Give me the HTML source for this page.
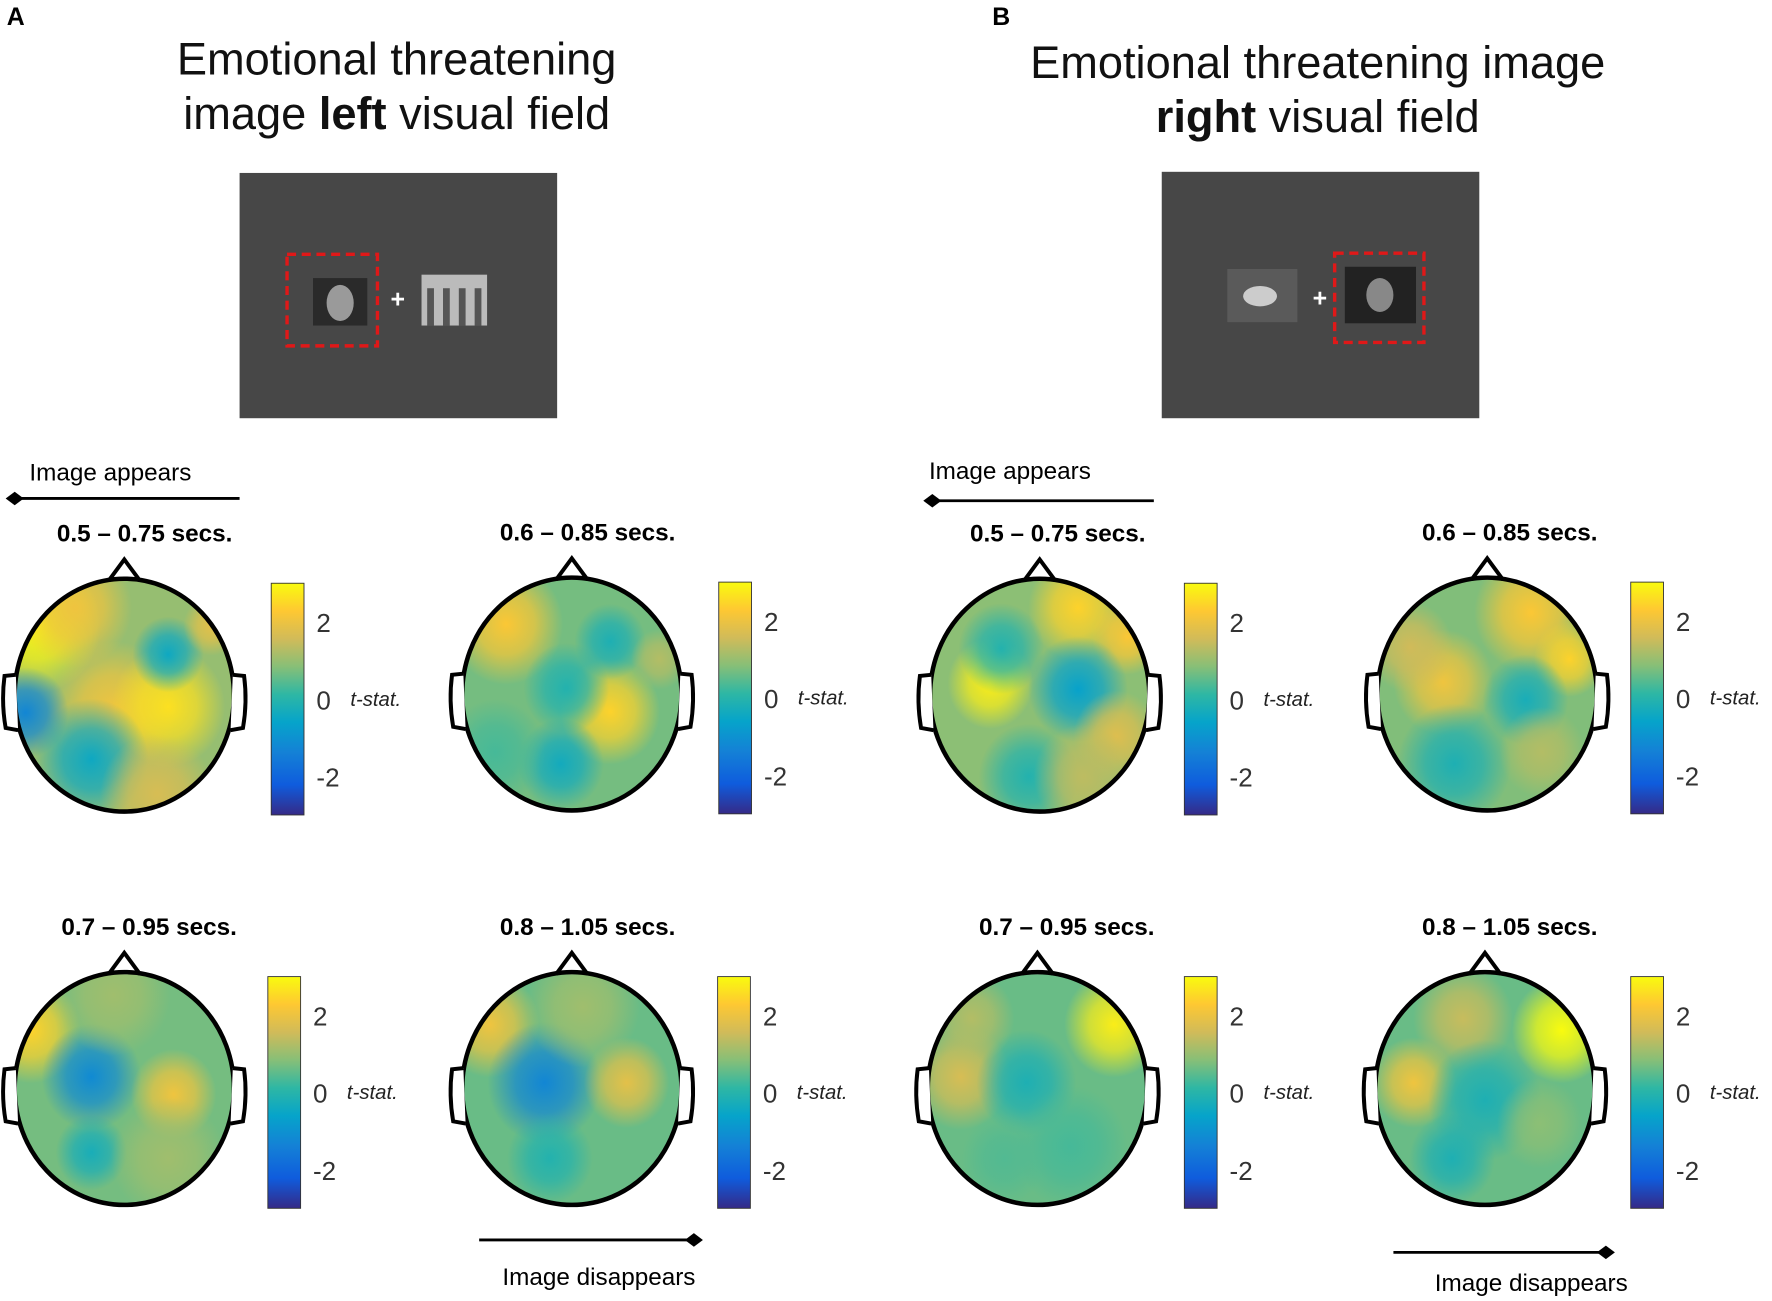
<!DOCTYPE html>
<html><head><meta charset="utf-8"><style>
html,body{margin:0;padding:0;background:#fff}
svg{display:block}
text{font-family:"Liberation Sans",Arial,sans-serif}
</style></head><body>
<svg id="fig" width="1772" height="1301" viewBox="0 0 1568 1151" preserveAspectRatio="none" xmlns="http://www.w3.org/2000/svg">
<defs id="defs">
<linearGradient id="cbar" x1="0" y1="1" x2="0" y2="0">
<stop offset="0" stop-color="#352a87"/><stop offset="0.13" stop-color="#0f5cdd"/><stop offset="0.27" stop-color="#1481d6"/><stop offset="0.4" stop-color="#06a4ca"/><stop offset="0.52" stop-color="#2eb7a4"/><stop offset="0.64" stop-color="#87bf77"/><stop offset="0.76" stop-color="#d1bb59"/><stop offset="0.88" stop-color="#fec832"/><stop offset="1" stop-color="#f9fb0e"/>
</linearGradient>
</defs>
<rect width="1568" height="1151" fill="#fff"/>
<text x="6" y="22" font-size="22" font-weight="bold">A</text>
<text x="878" y="22" font-size="22" font-weight="bold">B</text>
<text x="351" y="66" font-size="40" text-anchor="middle" fill="#111">Emotional threatening</text>
<text x="351" y="114" font-size="40" text-anchor="middle" fill="#111">image <tspan font-weight="bold">left</tspan> visual field</text>
<text x="1166" y="69" font-size="40" text-anchor="middle" fill="#111">Emotional threatening  image</text>
<text x="1166" y="117" font-size="40" text-anchor="middle" fill="#111"><tspan font-weight="bold">right</tspan> visual field</text>

<g>
<rect x="212" y="153" width="281" height="217" fill="#474747"/>
<rect x="277" y="246" width="48" height="42" fill="#2a2a2a"/><ellipse cx="301" cy="268" rx="12" ry="16" fill="#9a9a9a"/>
<rect x="254" y="225" width="80" height="81" fill="none" stroke="#e01818" stroke-width="3" stroke-dasharray="8 5"/>
<text x="352" y="272" font-size="22" font-weight="bold" fill="#fff" text-anchor="middle">+</text>
<rect x="373" y="243" width="58" height="45" fill="#bbb"/><rect x="378" y="255" width="6" height="33" fill="#555"/><rect x="392" y="255" width="6" height="33" fill="#555"/><rect x="406" y="255" width="6" height="33" fill="#555"/><rect x="420" y="255" width="6" height="33" fill="#555"/>
</g>
<g>
<rect x="1028" y="152" width="281" height="218" fill="#474747"/>
<rect x="1086" y="238" width="62" height="47" fill="#5a5a5a"/><ellipse cx="1115" cy="262" rx="15" ry="9" fill="#ccc"/>
<rect x="1190" y="236" width="63" height="50" fill="#222"/><ellipse cx="1221" cy="261" rx="12" ry="15" fill="#888"/>
<rect x="1181" y="224" width="79" height="79" fill="none" stroke="#e01818" stroke-width="3" stroke-dasharray="8 5"/>
<text x="1168" y="271" font-size="22" font-weight="bold" fill="#fff" text-anchor="middle">+</text>
</g>

<g>
<text x="26" y="425" font-size="21.5">Image appears</text>
<line x1="12" y1="441" x2="212" y2="441" stroke="#000" stroke-width="2.5"/>
<path d="M5 441 L13 435 L21 441 L13 447Z" fill="#000"/>
</g>
<g>
<text x="822" y="424" font-size="21.5">Image appears</text>
<line x1="824" y1="443" x2="1021" y2="443" stroke="#000" stroke-width="2.5"/>
<path d="M817 443 L825 437 L833 443 L825 449Z" fill="#000"/>
</g>
<g>
<line x1="424" y1="1097" x2="612" y2="1097" stroke="#000" stroke-width="2.5"/>
<path d="M606 1097 L614 1091 L622 1097 L614 1103Z" fill="#000"/>
<text x="530" y="1137" font-size="21.5" text-anchor="middle">Image disappears</text>
</g>
<g>
<line x1="1233" y1="1108" x2="1419" y2="1108" stroke="#000" stroke-width="2.5"/>
<path d="M1413 1108 L1421 1102 L1429 1108 L1421 1114Z" fill="#000"/>
<text x="1355" y="1142" font-size="21.5" text-anchor="middle">Image disappears</text>
</g>
<g id="maps"></g>
</svg>
<script>
// Topomap panels: titles, head centres, colorbar left edges, base values and blobs [x, y, radius, t-value]
const titles = ["0.5 – 0.75 secs.","0.6 – 0.85 secs.","0.7 – 0.95 secs.","0.8 – 1.05 secs.","0.5 – 0.75 secs.","0.6 – 0.85 secs.","0.7 – 0.95 secs.","0.8 – 1.05 secs."];
const baseValues = [0.9, 0.6, 0.6, 0.5, 0.8, 0.7, 0.5, 0.5];
const blobsA1 = [[-0.8,-0.6,0.45,2.9],[-0.45,-0.75,0.4,2.0],[-0.1,0.12,0.45,2.0],[0.4,0.1,0.4,2.6],[-0.9,0.15,0.3,-1.4],[-0.3,0.55,0.4,-0.6],[0.4,-0.35,0.25,-0.6],[0.3,0.85,0.4,1.6],[0.8,-0.6,0.2,1.8]];
const blobsA2 = [[-0.6,-0.6,0.4,2.2],[0.35,0.15,0.35,2.4],[-0.05,-0.05,0.3,-0.2],[0.35,-0.45,0.25,-0.3],[-0.1,0.6,0.3,-0.5],[0.8,-0.3,0.2,1.2],[-0.7,0.5,0.35,0.2]];
const blobsA3 = [[-0.85,-0.5,0.35,2.4],[-0.3,-0.1,0.35,-1.3],[0.45,0.05,0.3,2.0],[-0.3,0.55,0.25,-0.4],[0.4,0.6,0.4,1.0],[-0.1,-0.8,0.4,1.0]];
const blobsA4 = [[-0.75,-0.55,0.35,2.0],[-0.25,-0.05,0.4,-1.4],[0.5,-0.05,0.3,1.8],[0.1,-0.7,0.4,1.0],[-0.2,0.6,0.3,-0.2]];
const blobsB1 = [[0.35,-0.75,0.35,2.4],[0.8,-0.5,0.25,2.2],[-0.45,-0.1,0.3,2.8],[0.35,-0.05,0.35,-0.8],[-0.35,-0.4,0.3,-0.2],[0.7,0.35,0.3,1.7],[-0.1,0.7,0.35,-0.2],[0.4,0.7,0.35,1.3]];
const blobsB2 = [[0.4,-0.7,0.4,2.2],[0.75,-0.3,0.25,2.4],[-0.4,-0.1,0.35,2.0],[0.35,0.05,0.3,-0.4],[-0.7,-0.4,0.3,1.5],[-0.3,0.6,0.4,-0.3],[0.5,0.5,0.3,1.2]];
const blobsB3 = [[0.7,-0.55,0.35,2.8],[-0.7,-0.1,0.35,1.6],[-0.1,-0.05,0.35,-0.3],[-0.6,-0.6,0.3,1.2],[0.3,0.5,0.4,0.2],[-0.3,0.6,0.3,0.3]];
const blobsB4 = [[0.7,-0.5,0.35,3.0],[-0.65,-0.05,0.3,2.0],[-0.2,-0.6,0.35,1.4],[0.0,0.1,0.4,-0.3],[-0.3,0.6,0.3,-0.3],[0.5,0.3,0.3,0.8]];
const allBlobs = [blobsA1,blobsA2,blobsA3,blobsA4,blobsB1,blobsB2,blobsB3,blobsB4];
const headX = [110,506,110,506,920,1316,918,1314];
const headY = [615,614,963,963,615,614,963,963];
const titleX = [128,520,132,520,936,1336,944,1336];
const barX = [240,636,237,635,1048,1443,1048,1443];
const tickValues = [2,0,-2];

const NS="http://www.w3.org/2000/svg";
const defs=document.getElementById('defs'), maps=document.getElementById('maps');
const stops=[[-3,[53,42,135]],[-2.25,[15,92,221]],[-1.5,[20,129,214]],[-0.75,[6,164,202]],[0,[46,183,164]],[0.75,[135,191,119]],[1.5,[209,187,89]],[2.25,[254,200,50]],[3,[249,251,14]]];
function parula(v){v=Math.max(-3,Math.min(3,v));for(let i=0;i<stops.length-1;i++){const a=stops[i],b=stops[i+1];if(v<=b[0]){const t=(v-a[0])/(b[0]-a[0]);return 'rgb('+a[1].map((c,k)=>Math.round(c+(b[1][k]-c)*t)).join(',')+')';}}return 'rgb(249,251,14)';}
function mk(tag,attrs,parent){const e=document.createElementNS(NS,tag);for(const k in attrs)e.setAttribute(k,attrs[k]);(parent||maps).appendChild(e);return e;}
const RX=97, RY=103;
const vScale=(v,top,h)=>top+h*(3-v)/6;

titles.forEach((t,i)=>{
  const cx=headX[i], cy=headY[i];
  const g=mk('g',{});
  
  
  const tt=mk('text',{x:titleX[i],y:cy-136,'font-size':21.5,'font-weight':'bold','text-anchor':'middle'},g);
  tt.textContent=t;
  
  
  const cp=mk('clipPath',{id:'clip'+i},defs);
  mk('ellipse',{cx:cx,cy:cy,rx:RX,ry:RY},cp);
  const fg=mk('g',{'clip-path':'url(#clip'+i+')'},g);
  mk('rect',{x:cx-RX,y:cy-RY,width:2*RX,height:2*RY,fill:parula(baseValues[i])},fg);
  allBlobs[i].forEach((b,j)=>{
    const id='rg'+i+'_'+j;
    const rg=mk('radialGradient',{id:id},defs);
    mk('stop',{offset:'0','stop-color':parula(b[3]),'stop-opacity':'1'},rg);
    mk('stop',{offset:'0.5','stop-color':parula(b[3]),'stop-opacity':'0.7'},rg);
    mk('stop',{offset:'1','stop-color':parula(b[3]),'stop-opacity':'0'},rg);
    const bl=mk('ellipse',{cx:cx+b[0]*RX,cy:cy+b[1]*RY,rx:b[2]*RX*1.3,ry:b[2]*RY*1.3,fill:'url(#'+id+')'},fg);
    
    
  });
  mk('path',{d:`M${cx-14} ${cy-RY+2} L${cx} ${cy-RY-17} L${cx+14} ${cy-RY+2}`,fill:'#fff',stroke:'#000','stroke-width':3.5},g);
  mk('ellipse',{cx:cx,cy:cy,rx:RX,ry:RY,fill:'none',stroke:'#000','stroke-width':4},g);
  mk('path',{d:`M${cx-RX+1} ${cy-18} L${cx-RX-9} ${cy-17} Q${cx-RX-12} ${cy+6} ${cx-RX-8} ${cy+29} L${cx-RX+3} ${cy+31}`,fill:'#fff',stroke:'#000','stroke-width':3.5},g);
  mk('path',{d:`M${cx+RX-1} ${cy-18} L${cx+RX+9} ${cy-17} Q${cx+RX+12} ${cy+6} ${cx+RX+8} ${cy+29} L${cx+RX-3} ${cy+31}`,fill:'#fff',stroke:'#000','stroke-width':3.5},g);
  const bx=barX[i], by=cy-99, bh=205;
  const cb=mk('rect',{x:bx,y:by,width:29,height:bh,fill:'url(#cbar)',stroke:'#333','stroke-width':0.8},g);
  
  
  tickValues.forEach(v=>{
    const y=vScale(v,by,bh);
    const tx=mk('text',{x:bx+40,y:y+9,'font-size':23,fill:'#333'},g);
    tx.textContent=v<0?'-'+Math.abs(v):String(v);
    
    
  });
  const lab=mk('text',{x:bx+70,y:vScale(0,by,bh)+6,'font-size':18,'font-style':'italic',fill:'#222'},g);
  lab.textContent='t-stat.';
  
  
});
</script>
</body></html>
